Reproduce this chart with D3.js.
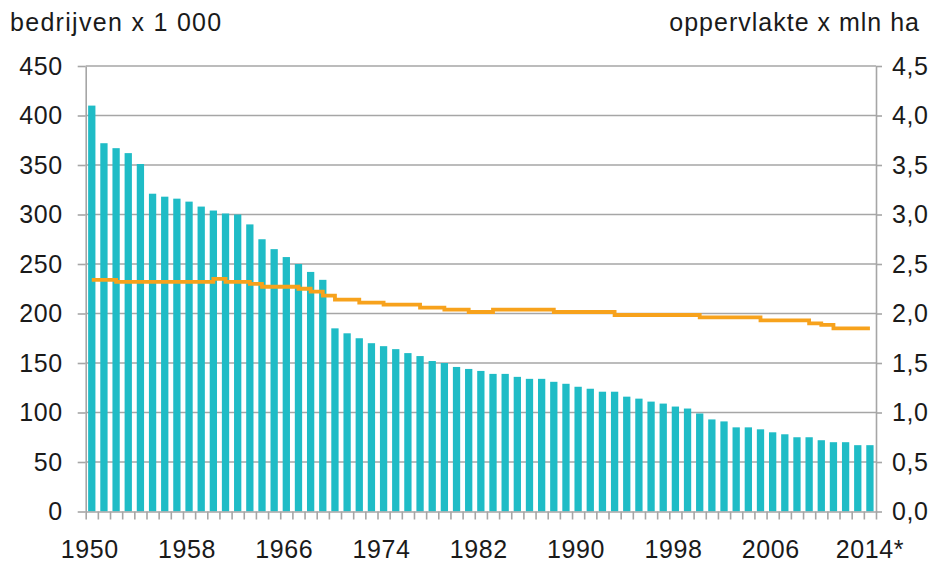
<!DOCTYPE html>
<html>
<head>
<meta charset="utf-8">
<script src="https://cdn.jsdelivr.net/npm/d3@7"></script>
<style>
  html, body { margin: 0; padding: 0; background: #fff; }
  svg { display: block; font-family: "Liberation Sans", Arial, sans-serif; }
</style>
</head>
<body>
<svg id="chart" width="934" height="563"></svg>
<script>
// ---- data ----
const years = d3.range(1950, 2015);
const yearLabels = ["1950", "1958", "1966", "1974", "1982", "1990", "1998", "2006", "2014*"];
const labelYears = [1950, 1958, 1966, 1974, 1982, 1990, 1998, 2006, 2014];
// number of farms (x 1 000)
const farms = [
  410, 372, 367, 362, 351, 321, 318, 316, 313, 308,
  304, 301, 300, 290, 275, 265, 257, 250, 242, 234,
  185, 180, 175, 170, 167, 164, 160, 157, 152, 150,
  146, 144, 142, 139, 139, 136, 134, 134, 131, 129,
  126, 124, 121, 121, 116, 114, 111, 109, 106, 104,
  99, 93, 91, 85, 85, 83, 80, 78, 75, 75,
  72, 70, 70, 67, 67
];
// agricultural area (x mln ha)
const area = [
  2.34, 2.34, 2.32, 2.32, 2.32, 2.32, 2.32, 2.32, 2.32, 2.32,
  2.35, 2.32, 2.32, 2.30, 2.27, 2.27, 2.27, 2.25, 2.22, 2.18,
  2.14, 2.14, 2.11, 2.11, 2.09, 2.09, 2.09, 2.06, 2.06, 2.04,
  2.04, 2.015, 2.015, 2.04, 2.04, 2.04, 2.04, 2.04, 2.015, 2.015,
  2.015, 2.015, 2.015, 1.985, 1.985, 1.985, 1.985, 1.985, 1.985, 1.985,
  1.96, 1.96, 1.96, 1.96, 1.96, 1.93, 1.93, 1.93, 1.93, 1.90,
  1.885, 1.85, 1.85, 1.85, 1.85
];
const leftTicks = [0, 50, 100, 150, 200, 250, 300, 350, 400, 450];
const rightTicks = [0, 0.5, 1, 1.5, 2, 2.5, 3, 3.5, 4, 4.5];

// ---- layout ----
const svg = d3.select("#chart");
const L = 85.7, R = 876, T = 66, B = 511.5;
const gridColor = "#a6a6a6";
const barColor = "#1fbcc6";
const lineColor = "#f7a21c";
const textColor = "#1a1a1a";
const fs = 25;
const ls = 0.6;

const x = d3.scaleBand().domain(years).range([L, R]).paddingInner(0.4).paddingOuter(0.2);
const xi = d3.scaleLinear().domain([0, years.length]).range([L, R]);
const yL = d3.scaleLinear().domain([0, 450]).range([B, T]);
const yR = d3.scaleLinear().domain([0, 4.5]).range([B, T]);

const nl = d3.formatLocale({decimal: ",", thousands: ".", grouping: [3], currency: ["€", ""]});
const fmtR = nl.format(".1f");

// gridlines
svg.append("g").selectAll("line").data(leftTicks.filter(d => d > 0)).join("line")
  .attr("x1", L).attr("x2", R)
  .attr("y1", d => yL(d)).attr("y2", d => yL(d))
  .attr("stroke", gridColor).attr("stroke-width", 1.6);

// bars
svg.append("g").selectAll("rect").data(years).join("rect")
  .attr("x", d => x(d))
  .attr("width", x.bandwidth())
  .attr("y", (d, i) => yL(farms[i]))
  .attr("height", (d, i) => B - yL(farms[i]))
  .attr("fill", barColor);

// area line (stepped)
const line = d3.line()
  .x((d, i) => x(years[i]) + x.bandwidth() / 2)
  .y(d => yR(d))
  .curve(d3.curveStepAfter);
svg.append("path").datum(area)
  .attr("d", line)
  .attr("fill", "none")
  .attr("stroke", lineColor)
  .attr("stroke-width", 3.8);

// axes
function styleAxis(g) {
  g.select(".domain").attr("stroke", gridColor).attr("stroke-width", 1.6);
  g.selectAll(".tick line").attr("stroke", gridColor).attr("stroke-width", 1.6);
  g.selectAll(".tick text").attr("fill", textColor).attr("font-size", fs)
    .attr("letter-spacing", ls)
    .attr("font-family", "Liberation Sans, Arial, sans-serif");
}

svg.append("g").attr("transform", `translate(${L},0)`)
  .call(d3.axisLeft(yL).tickValues(leftTicks).tickSize(8).tickSizeOuter(0).tickPadding(15))
  .call(styleAxis);

svg.append("g").attr("transform", `translate(${R},0)`)
  .call(d3.axisRight(yR).tickValues(rightTicks).tickFormat(fmtR).tickSize(6).tickSizeOuter(0).tickPadding(10))
  .call(styleAxis);

// bottom axis: ticks at band boundaries
svg.append("g").attr("transform", `translate(0,${B})`)
  .call(d3.axisBottom(xi).tickValues(d3.range(years.length + 1)).tickFormat("").tickSize(8).tickSizeOuter(0))
  .call(styleAxis);

// bottom labels
svg.append("g").selectAll("text").data(labelYears).join("text")
  .attr("x", d => x(d) + x.bandwidth() / 2 + (d === 2014 ? 0 : -2))
  .attr("y", 557.5)
  .attr("text-anchor", "middle")
  .attr("font-size", fs)
  .attr("letter-spacing", ls)
  .attr("fill", textColor)
  .text((d, i) => yearLabels[i]);

// axis titles
svg.append("text").attr("x", 10).attr("y", 31)
  .attr("font-size", fs).attr("letter-spacing", 1.3).attr("fill", textColor)
  .text("bedrijven x 1 000");
svg.append("text").attr("x", 920).attr("y", 31)
  .attr("text-anchor", "end")
  .attr("font-size", fs).attr("letter-spacing", 1.0).attr("fill", textColor)
  .text("oppervlakte x mln ha");
</script>
</body>
</html>
